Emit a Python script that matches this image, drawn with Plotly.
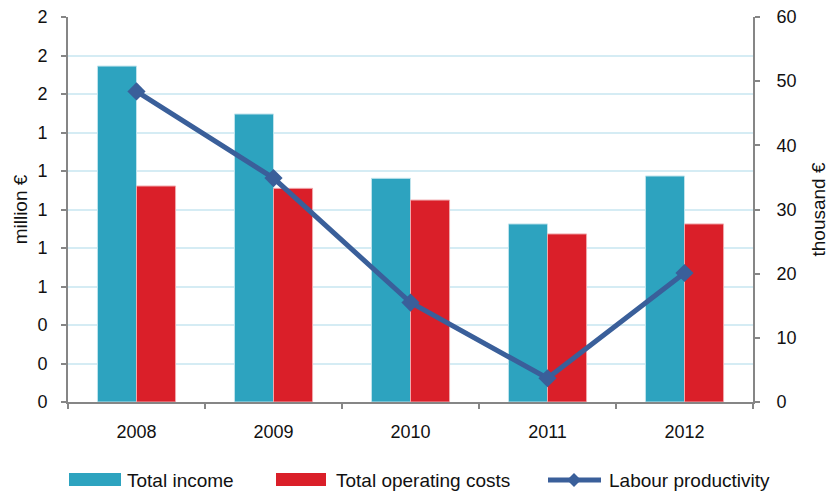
import plotly.graph_objects as go

# ---- data ----
years = ["2008", "2009", "2010", "2011", "2012"]
total_income = [1.745, 1.496, 1.162, 0.925, 1.174]          # million €
total_operating_costs = [1.122, 1.110, 1.049, 0.873, 0.925]  # million €
labour_productivity = [48.4, 34.9, 15.5, 3.7, 20.1]           # thousand €

left_tickvals = [0.0, 0.2, 0.4, 0.6, 0.8, 1.0, 1.2, 1.4, 1.6, 1.8, 2.0]
left_ticktext = ["0", "0", "0", "1", "1", "1", "1", "1", "2", "2", "2"]
right_tickvals = [0, 10, 20, 30, 40, 50, 60]

legend_labels = ["Total income", "Total operating costs", "Labour productivity"]

# ---- style ----
TEAL = "#2DA3BF"
RED = "#DA1F29"
LINE = "#3A5F9A"
AXIS = "#868686"
GRID = "#D5ECF4"
FONT = "Liberation Sans, Arial, sans-serif"
TXT = "#111111"

W, H = 829, 493
ML, MR, MT, MB = 68, 76, 17, 91
PW, PH = W - ML - MR, H - MT - MB


def px(x):
    return (x - ML) / PW


def py(y):
    return (H - MB - y) / PH


fig = go.Figure()
fig.add_trace(go.Bar(x=years, y=total_income, name=legend_labels[0],
                     marker=dict(color=TEAL, line=dict(color="#BFE3EC", width=1)),
                     showlegend=False))
fig.add_trace(go.Bar(x=years, y=total_operating_costs, name=legend_labels[1],
                     marker=dict(color=RED, line=dict(color="#F0A8AC", width=1)),
                     showlegend=False))
fig.add_trace(go.Scatter(x=years, y=labour_productivity, name=legend_labels[2],
                         yaxis="y2", mode="lines+markers",
                         line=dict(color=LINE, width=5),
                         marker=dict(symbol="diamond", size=14, color=LINE),
                         showlegend=False))

fig.update_layout(
    width=W, height=H,
    margin=dict(l=ML, r=MR, t=MT, b=MB, autoexpand=False),
    paper_bgcolor="white", plot_bgcolor="white",
    font=dict(family=FONT, size=17, color=TXT),
    barmode="group", bargap=0.43, bargroupgap=0,
    showlegend=False,
    xaxis=dict(type="category", showline=True, linecolor=AXIS, linewidth=2,
               ticks="outside", ticklen=5, tickwidth=2, tickcolor=AXIS,
               tickson="boundaries", showgrid=False, ticklabelstandoff=12,
               tickfont=dict(size=18)),
    yaxis=dict(range=[0, 2.0], tickvals=left_tickvals, ticktext=left_ticktext,
               showline=True, linecolor=AXIS, linewidth=2,
               ticks="outside", ticklen=5, tickwidth=2, tickcolor=AXIS,
               showgrid=True, gridcolor=GRID, gridwidth=2, zeroline=False,
               ticklabelstandoff=10, automargin=False, tickfont=dict(size=18),
               title=dict(text="million €", standoff=5, font=dict(size=19))),
    yaxis2=dict(range=[0, 60], tickvals=right_tickvals, overlaying="y", side="right",
                showline=True, linecolor=AXIS, linewidth=2,
                ticks="outside", ticklen=5, tickwidth=2, tickcolor=AXIS,
                showgrid=False, zeroline=False, ticklabelstandoff=13, automargin=False,
                tickfont=dict(size=18),
                title=dict(text="thousand €", standoff=17, font=dict(size=19))),
)

# ---- custom legend (matching the reference's wide swatches) ----
ly = 480
shapes = [
    dict(type="rect", xref="paper", yref="paper", x0=px(69), x1=px(121),
         y0=py(486), y1=py(473), fillcolor=TEAL, line=dict(width=0)),
    dict(type="rect", xref="paper", yref="paper", x0=px(276), x1=px(326),
         y0=py(486), y1=py(473), fillcolor=RED, line=dict(width=0)),
    dict(type="line", xref="paper", yref="paper", x0=px(548), x1=px(601),
         y0=py(ly), y1=py(ly), line=dict(color=LINE, width=5)),
    dict(type="path", xref="paper", yref="paper", xsizemode="pixel", ysizemode="pixel",
         xanchor=px(574), yanchor=py(ly), path="M -7 0 L 0 -7 L 7 0 L 0 7 Z",
         fillcolor=LINE, line=dict(width=0)),
]
for s in shapes:
    fig.add_shape(**s)

for label, x in zip(legend_labels, [125, 334, 607]):
    fig.add_annotation(text=label, xref="paper", yref="paper", x=px(x), y=py(ly),
                       xanchor="left", yanchor="middle", showarrow=False,
                       font=dict(size=19, color=TXT, family=FONT))

fig.write_html("out.html", config={"displayModeBar": False},
               post_script="document.body.style.margin='0px';document.body.style.overflow='hidden';")
